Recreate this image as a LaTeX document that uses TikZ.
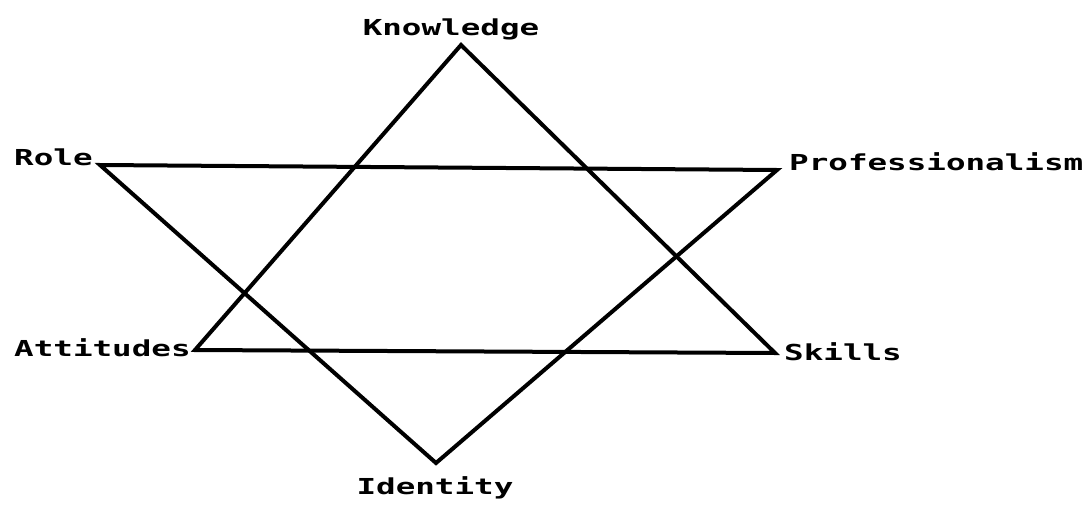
\documentclass[tikz,border=0pt]{standalone}
\usepackage{fontspec}
\setmonofont{DejaVu Sans Mono}
\begin{document}
\begin{tikzpicture}[x=1pt,y=-1pt,
  lbl/.style={inner sep=0pt,font=\fontsize{22}{24}\selectfont\ttfamily\bfseries},
  edge/.style={line width=4pt,line join=miter,line cap=butt}]
\useasboundingbox (0,0) rectangle (1092,522);
\fill[white] (0,0) rectangle (1092,522);
% vertices
\coordinate (k) at (461,45);
\coordinate (a) at (195,350);
\coordinate (s) at (775,353);
\coordinate (r) at (100,165);
\coordinate (p) at (777,170);
\coordinate (i) at (436,463);
% labels
\newcommand{\wl}[1]{\scalebox{1.48}[1]{#1}}
\node[lbl,anchor=base] (kl) at (451,35) {\wl{Knowledge}};
\node[lbl,anchor=base west] (rl) at (14,165) {\wl{Role}};
\node[lbl,anchor=base west] (pl) at (789,170) {\wl{Professionalism}};
\node[lbl,anchor=base west] (al) at (14,356) {\wl{Attitudes}};
\node[lbl,anchor=base west] (sl) at (784,360) {\wl{Skills}};
\node[lbl,anchor=base] (il) at (435,494) {\wl{Identity}};
% triangles
\draw[edge] (k) -- (a) -- (s) -- cycle;
\draw[edge] (r) -- (p) -- (i) -- cycle;
\end{tikzpicture}
\end{document}
